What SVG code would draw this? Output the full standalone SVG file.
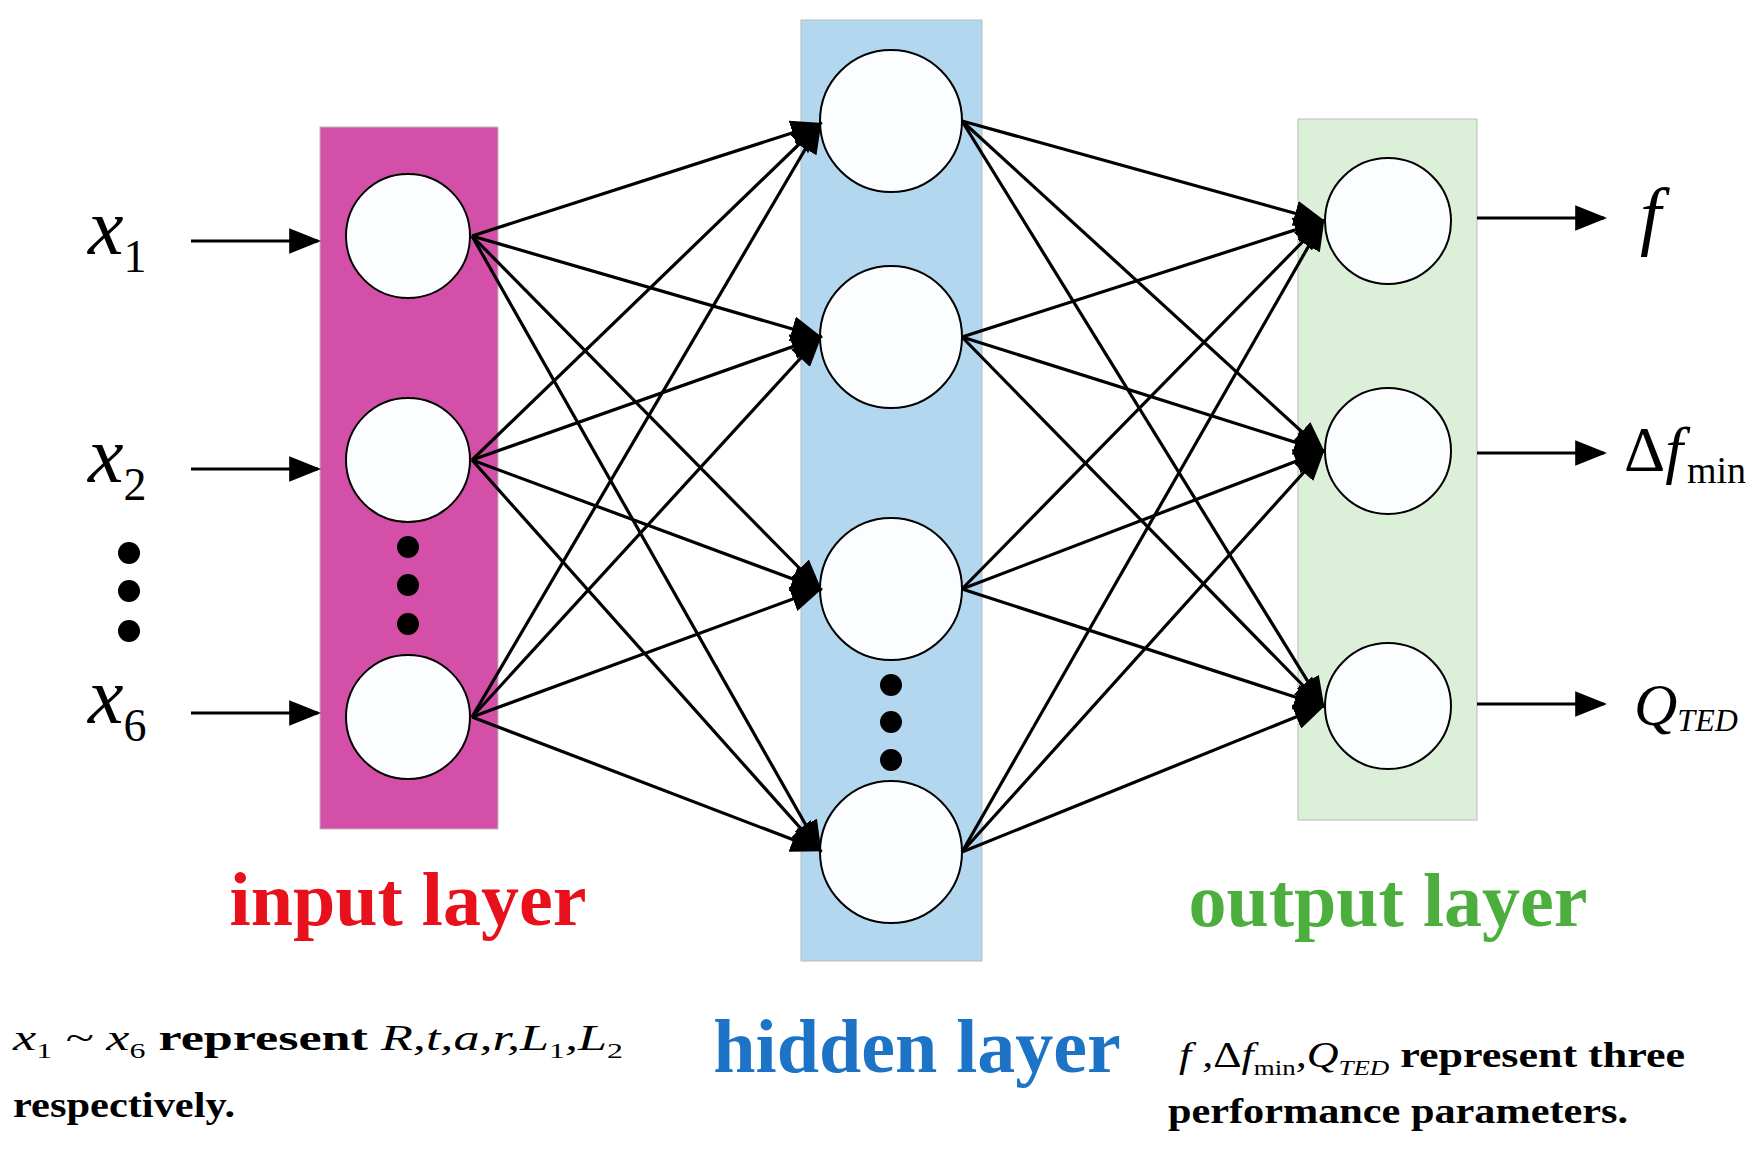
<svg xmlns="http://www.w3.org/2000/svg" width="1761" height="1152" viewBox="0 0 1761 1152">
<style>
.n{fill:#fbfdff;stroke:#000;stroke-width:2}
.c line{stroke:#000;stroke-width:3.2;marker-end:url(#a)}
.d{fill:#000}
.m{font-family:'Liberation Serif',serif;font-style:italic}
.lb{font-family:'Liberation Serif',serif;font-weight:bold;font-size:76px;text-anchor:middle}
.t{font-family:'Liberation Serif',serif;font-weight:bold;font-size:36px}
</style>
<defs><marker id="a" markerWidth="10" markerHeight="8" refX="9" refY="4" orient="auto" markerUnits="strokeWidth"><path d="M0,0L10,4L0,8z" fill="#000"/></marker></defs>
<rect x="0" y="0" width="1761" height="1152" fill="#fff"/>
<g id="input-layer"><rect x="320" y="127" width="178" height="702" fill="#d450a8" stroke="#bbb"/>
<circle class="n" cx="408" cy="236" r="62"/><circle class="n" cx="408" cy="460" r="62"/><circle class="n" cx="408" cy="717" r="62"/>
<circle class="d" cx="408" cy="547" r="11"/><circle class="d" cx="408" cy="585" r="11"/><circle class="d" cx="408" cy="624" r="11"/></g>
<g id="hidden-layer"><rect x="801" y="20" width="181" height="941" fill="#b3d7ef" stroke="#bbb"/>
<circle class="n" cx="891" cy="121" r="71"/><circle class="n" cx="891" cy="337" r="71"/><circle class="n" cx="891" cy="589" r="71"/><circle class="n" cx="891" cy="852" r="71"/>
<circle class="d" cx="891" cy="685" r="11"/><circle class="d" cx="891" cy="722" r="11"/><circle class="d" cx="891" cy="760" r="11"/></g>
<g id="output-layer"><rect x="1298" y="119" width="179" height="701" fill="#dcefd9" stroke="#bbb"/>
<circle class="n" cx="1388" cy="221" r="63"/><circle class="n" cx="1388" cy="451" r="63"/><circle class="n" cx="1388" cy="706" r="63"/></g>
<g id="inputs">
<text class="m" x="88" y="254" font-size="80">x<tspan font-size="46" font-style="normal" dy="18">1</tspan></text>
<text class="m" x="88" y="482" font-size="80">x<tspan font-size="46" font-style="normal" dy="18">2</tspan></text>
<text class="m" x="88" y="723" font-size="80">x<tspan font-size="46" font-style="normal" dy="18">6</tspan></text>
<circle class="d" cx="129" cy="553" r="11"/><circle class="d" cx="129" cy="591" r="11"/><circle class="d" cx="129" cy="631" r="11"/></g>
<g id="outputs">
<text class="m" x="1640" y="241" font-size="76">f</text>
<text class="m" x="1624" y="471" font-size="64"><tspan font-style="normal">Δ</tspan>f<tspan font-style="normal" font-size="38" dx="4" dy="12">min</tspan></text>
<text class="m" x="1634" y="725" font-size="60">Q<tspan font-size="32" dy="6">TED</tspan></text></g>
<g class="c" id="connectors">
<line x1="191" y1="241" x2="318" y2="241"/><line x1="191" y1="469" x2="318" y2="469"/><line x1="191" y1="713" x2="318" y2="713"/>
<line x1="472" y1="236" x2="820" y2="124"/><line x1="472" y1="236" x2="820" y2="337"/><line x1="472" y1="236" x2="820" y2="589"/><line x1="472" y1="236" x2="820" y2="850"/>
<line x1="472" y1="460" x2="820" y2="124"/><line x1="472" y1="460" x2="820" y2="337"/><line x1="472" y1="460" x2="820" y2="589"/><line x1="472" y1="460" x2="820" y2="850"/>
<line x1="472" y1="717" x2="820" y2="124"/><line x1="472" y1="717" x2="820" y2="337"/><line x1="472" y1="717" x2="820" y2="589"/><line x1="472" y1="717" x2="820" y2="850"/>
<line x1="962" y1="121" x2="1323" y2="221"/><line x1="962" y1="121" x2="1323" y2="451"/><line x1="962" y1="121" x2="1323" y2="706"/>
<line x1="962" y1="337" x2="1323" y2="221"/><line x1="962" y1="337" x2="1323" y2="451"/><line x1="962" y1="337" x2="1323" y2="706"/>
<line x1="962" y1="589" x2="1323" y2="221"/><line x1="962" y1="589" x2="1323" y2="451"/><line x1="962" y1="589" x2="1323" y2="706"/>
<line x1="962" y1="852" x2="1323" y2="221"/><line x1="962" y1="852" x2="1323" y2="451"/><line x1="962" y1="852" x2="1323" y2="706"/>
<line x1="1477" y1="218" x2="1604" y2="218"/><line x1="1477" y1="453" x2="1604" y2="453"/><line x1="1477" y1="704" x2="1604" y2="704"/>
</g>
<g id="labels">
<text class="lb" x="408" y="925" fill="#e8101a">input layer</text>
<text class="lb" x="1388" y="926" fill="#4cae3c">output layer</text>
<text class="lb" x="917" y="1072" fill="#1d74c6">hidden layer</text>
<text class="t" x="13" y="1050" textLength="610" lengthAdjust="spacingAndGlyphs"><tspan class="m" font-weight="normal">x<tspan font-size="22" font-style="normal" dy="8">1</tspan><tspan dy="-8"> ~ x</tspan><tspan font-size="22" font-style="normal" dy="8">6</tspan></tspan><tspan dy="-8"> represent </tspan><tspan class="m" font-weight="normal">R,t,a,r,L<tspan font-size="22" font-style="normal" dy="8">1</tspan><tspan dy="-8">,L</tspan><tspan font-size="22" font-style="normal" dy="8">2</tspan></tspan></text>
<text class="t" x="13" y="1117" textLength="222" lengthAdjust="spacingAndGlyphs">respectively.</text>
<text class="t" x="1179" y="1067" textLength="506" lengthAdjust="spacingAndGlyphs"><tspan class="m" font-weight="normal">f ,<tspan font-style="normal">Δ</tspan>f<tspan font-size="22" font-style="normal" dy="8">min</tspan><tspan dy="-8">,Q</tspan><tspan font-size="22" dy="8">TED</tspan></tspan><tspan dy="-8"> represent three</tspan></text>
<text class="t" x="1168" y="1123" textLength="460" lengthAdjust="spacingAndGlyphs">performance parameters.</text>
</g>
</svg>
